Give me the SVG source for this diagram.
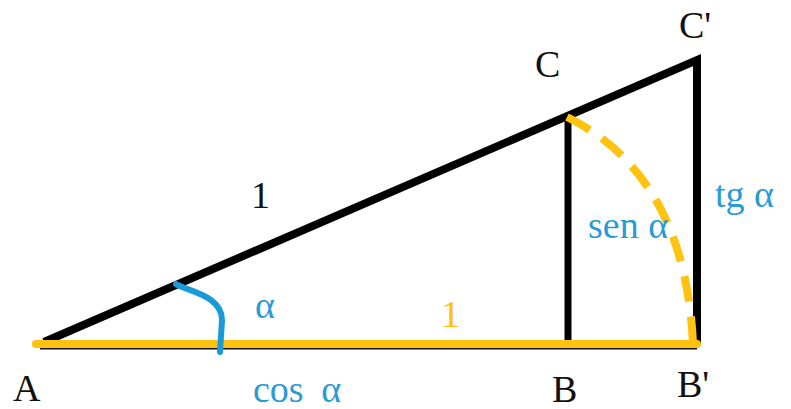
<svg xmlns="http://www.w3.org/2000/svg" width="791" height="409" viewBox="0 0 791 409">
<style>
.k{fill:#111}
.b{fill:#2a9ad4}
.y{fill:#ffc20e}
</style>
<rect width="791" height="409" fill="#fff"/>
<g id="connectors">
<line x1="40" y1="347" x2="697" y2="347" stroke="#111" stroke-width="5"/>
<polyline points="44,342 697,60 697,344" fill="none" stroke="#000" stroke-width="8" stroke-linejoin="miter"/>
<line x1="568" y1="114" x2="568" y2="340" stroke="#000" stroke-width="7"/>
<line x1="36" y1="344" x2="697" y2="344" stroke="#ffc20e" stroke-width="8" stroke-linecap="round"/>
<path d="M567,117 C645,155 688,232 693,344" fill="none" stroke="#ffc20e" stroke-width="8" stroke-dasharray="26,15"/>
<path d="M176,284 C186,291 222,295 222,320 L220,352" fill="none" stroke="#1a9ad6" stroke-width="6" stroke-linecap="round"/>
</g>
<g font-family="Liberation Serif, Times New Roman, Times, DejaVu Serif, serif" font-size="38">
<g id="A"><text class="k" x="13" y="401">A</text></g>
<g id="B"><text class="k" x="552" y="402">B</text></g>
<g id="B2"><text class="k" x="677" y="397">B'</text></g>
<g id="C"><text class="k" x="535" y="77">C</text></g>
<g id="C2"><text class="k" x="679" y="38">C'</text></g>
<g id="hyp"><text class="k" x="251" y="208">1</text></g>
<g id="base"><text class="y" x="441" y="327">1</text></g>
<g id="alpha"><text class="b" x="255" y="318">α</text></g>
<g id="cos"><text class="b" x="253" y="402">cos <tspan dx="8">α</tspan></text></g>
<g id="sen"><text class="b" x="588" y="238">sen α</text></g>
<g id="tg"><text class="b" x="715" y="207">tg α</text></g>
</g>
</svg>
